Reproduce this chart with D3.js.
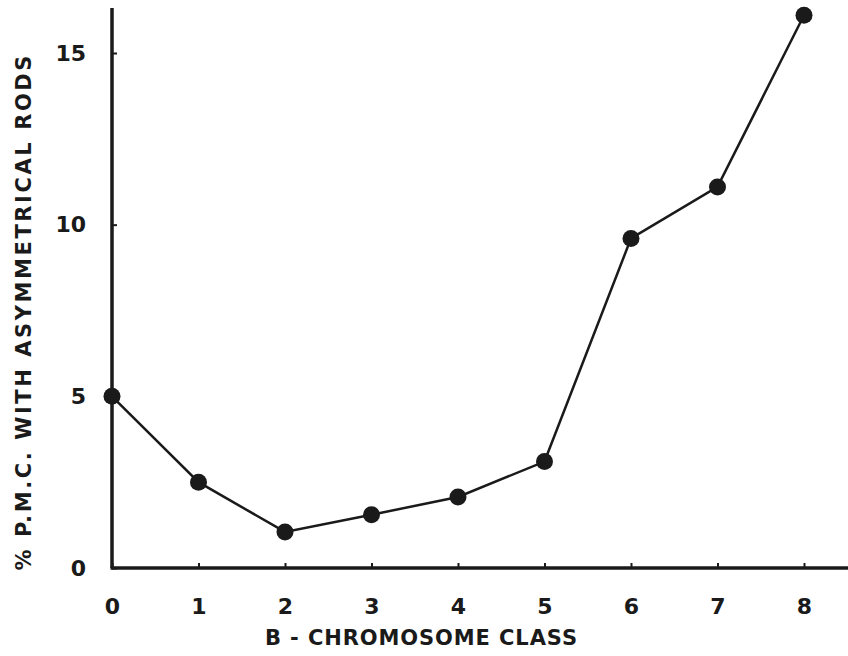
<!DOCTYPE html>
<html>
<head>
<meta charset="utf-8">
<script src="https://cdn.jsdelivr.net/npm/d3@7"></script>
<style>
  body { margin: 0; background: #fff; }
  svg text { font-family: "DejaVu Sans", sans-serif; font-weight: bold; fill: #1a1a1a; }
</style>
</head>
<body>
<div id="chart"></div>
<script>
        // B-chromosome class vs % PMC with asymmetrical rods
        var classes = [0, 1, 2, 3, 4, 5, 6, 7, 8];
        var pmc_pct = [5.0, 2.5, 1.05, 1.55, 2.07, 3.1, 9.6, 11.1, 16.1];
        var x_ticks = [0, 1, 2, 3, 4, 5, 6, 7, 8];
        var y_ticks = [0, 5, 10, 15];

        var data = classes.map(function (c, i) {
            return { cls: c, pct: pmc_pct[i] };
        });

        var width = 848,
            height = 656;

        var x = d3.scaleLinear()
            .domain([0, 8])
            .range([112, 804]);

        var y = d3.scaleLinear()
            .domain([0, 15])
            .range([568, 53]);

        var svg = d3.select("#chart").append("svg")
            .attr("width", width)
            .attr("height", height);

        // x axis, ticks pointing up
        var xAxis = d3.axisBottom(x)
            .tickValues(x_ticks)
            .tickSizeInner(-5)
            .tickSizeOuter(0)
            .tickPadding(30)
            .tickFormat(d3.format("d"));

        var gx = svg.append("g")
            .attr("transform", "translate(0," + y(0) + ")")
            .call(xAxis);
        gx.select(".domain").remove();
        gx.append("line")
            .attr("x1", x(0) - 1.5).attr("x2", width)
            .attr("y1", 0).attr("y2", 0)
            .attr("stroke", "#1a1a1a").attr("stroke-width", 3.5);
        gx.selectAll(".tick line").attr("stroke", "#1a1a1a").attr("stroke-width", 2);
        gx.selectAll(".tick text")
            .style("font-size", "22px")
            .attr("fill", "#1a1a1a");

        // y axis, ticks pointing right
        var yAxis = d3.axisLeft(y)
            .tickValues(y_ticks)
            .tickSizeInner(-5)
            .tickSizeOuter(0)
            .tickPadding(26);

        var gy = svg.append("g")
            .attr("transform", "translate(" + x(0) + ",0)")
            .call(yAxis);
        gy.select(".domain").remove();
        gy.append("line")
            .attr("x1", 0).attr("x2", 0)
            .attr("y1", 8).attr("y2", y(0))
            .attr("stroke", "#1a1a1a").attr("stroke-width", 3.5);
        gy.selectAll(".tick line").attr("stroke", "#1a1a1a").attr("stroke-width", 2);
        gy.selectAll(".tick text")
            .style("font-size", "22px")
            .attr("fill", "#1a1a1a");

        // axis titles
        svg.append("text")
            .attr("x", 421)
            .attr("y", 645)
            .attr("text-anchor", "middle")
            .attr("textLength", 312)
            .attr("lengthAdjust", "spacing")
            .style("font-size", "21px")
            .text("B - CHROMOSOME  CLASS");

        svg.append("text")
            .attr("transform", "translate(31,313) rotate(-90)")
            .attr("text-anchor", "middle")
            .attr("textLength", 515)
            .attr("lengthAdjust", "spacing")
            .style("font-size", "21px")
            .text("% P.M.C. WITH  ASYMMETRICAL  RODS");

        // line + markers
        var line = d3.line()
            .x(function (d) { return x(d.cls); })
            .y(function (d) { return y(d.pct); });

        svg.append("path")
            .datum(data)
            .attr("fill", "none")
            .attr("stroke", "#1a1a1a")
            .attr("stroke-width", 2.5)
            .attr("d", line);

        svg.selectAll(".dot")
            .data(data)
            .enter().append("circle")
            .attr("class", "dot")
            .attr("cx", function (d) { return x(d.cls); })
            .attr("cy", function (d) { return y(d.pct); })
            .attr("r", 8.5)
            .attr("fill", "#1a1a1a");
</script>
</body>
</html>
